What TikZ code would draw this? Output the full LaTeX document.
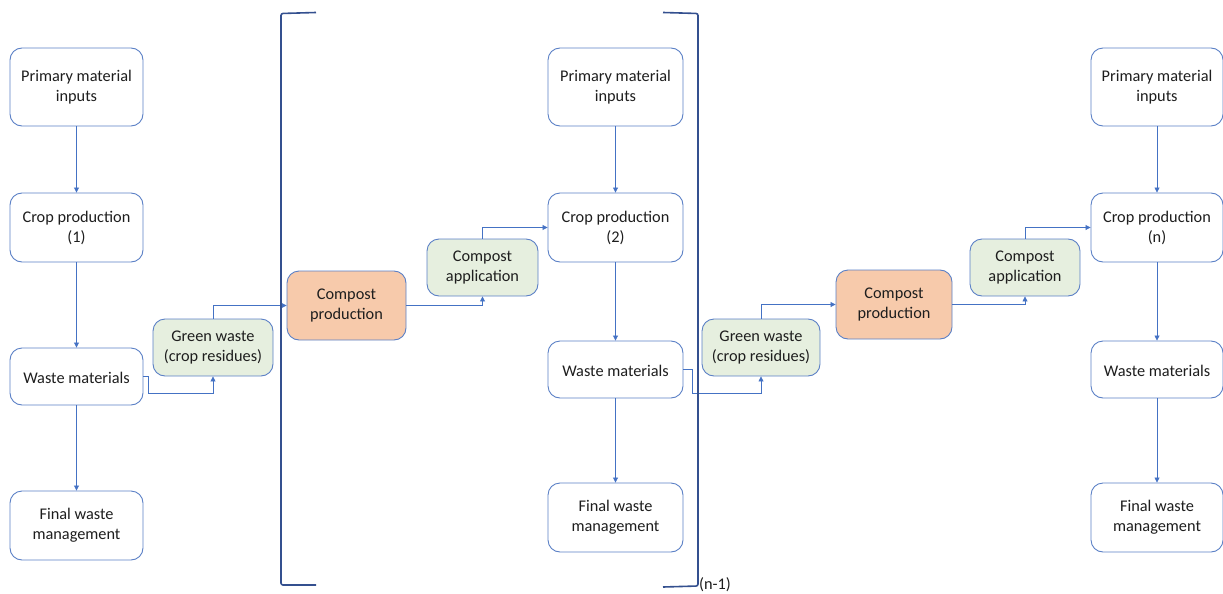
\documentclass[tikz,border=0pt]{standalone}
\usepackage{fontspec}
\setmainfont{Carlito}
\usetikzlibrary{arrows.meta}
\definecolor{edge}{HTML}{4472C4}
\definecolor{boxline}{HTML}{5B80C6}
\definecolor{greenfill}{HTML}{E6EFDF}
\definecolor{orangefill}{HTML}{F7CAAB}
\definecolor{bracketcol}{HTML}{34508F}
\definecolor{ink}{HTML}{1E1E1E}
\begin{document}
\begin{tikzpicture}[x=1pt,y=-1pt,
  every node/.style={font=\fontsize{16.3}{20}\selectfont, text=ink, align=center, inner sep=0pt},
  wbox/.style={draw=boxline, line width=0.9pt, rounded corners=12pt, fill=white,
    execute at begin node={\rule{0pt}{15pt}}},
  gbox/.style={wbox, fill=greenfill},
  obox/.style={wbox, fill=orangefill},
  conn/.style={draw=edge, line width=0.8pt, -{Triangle[length=5pt,width=5pt]}},
  brk/.style={draw=bracketcol, line width=1.6pt, rounded corners=2pt}
]
\useasboundingbox (0,0) rectangle (1223,594);

% first stage column
\node[wbox, minimum width=133, minimum height=78] (p1) at (76.5,87) {Primary material\\inputs};
\node[wbox, minimum width=133, minimum height=69] (c1) at (76.5,227.5) {Crop production\\(1)};
\node[wbox, minimum width=133, minimum height=57] (w1) at (76.5,376.5) {Waste materials};
\node[wbox, minimum width=133, minimum height=69] (f1) at (76.5,525.5) {Final waste\\management};

% loop between stages 1 and 2
\node[gbox, minimum width=120, minimum height=57] (g1) at (213,347.5) {Green waste\\(crop residues)};
\node[obox, minimum width=119, minimum height=69] (cp1) at (346.5,305.5) {Compost\\production};
\node[gbox, minimum width=111, minimum height=57] (ca1) at (482.5,267.5) {Compost\\application};

% second stage column
\node[wbox, minimum width=135, minimum height=78] (p2) at (615.5,87) {Primary material\\inputs};
\node[wbox, minimum width=135, minimum height=69] (c2) at (615.5,227.5) {Crop production\\(2)};
\node[wbox, minimum width=135, minimum height=57] (w2) at (615.5,369.5) {Waste materials};
\node[wbox, minimum width=135, minimum height=69] (f2) at (615.5,517.5) {Final waste\\management};

% loop between stages 2 and n
\node[gbox, minimum width=118, minimum height=57] (g2) at (761,347.5) {Green waste\\(crop residues)};
\node[obox, minimum width=116, minimum height=69] (cp2) at (894,304.5) {Compost\\production};
\node[gbox, minimum width=110, minimum height=57] (ca2) at (1025,267.5) {Compost\\application};

% last stage column
\node[wbox, minimum width=132, minimum height=78] (p3) at (1157,87) {Primary material\\inputs};
\node[wbox, minimum width=132, minimum height=69] (c3) at (1157,227.5) {Crop production\\(n)};
\node[wbox, minimum width=132, minimum height=57] (w3) at (1157,369.5) {Waste materials};
\node[wbox, minimum width=132, minimum height=69] (f3) at (1157,517.5) {Final waste\\management};

% vertical flows
\draw[conn] (p1) -- (c1);
\draw[conn] (c1) -- (w1);
\draw[conn] (w1) -- (f1);
\draw[conn] (p2) -- (c2);
\draw[conn] (c2) -- (w2);
\draw[conn] (w2) -- (f2);
\draw[conn] (p3) -- (c3);
\draw[conn] (c3) -- (w3);
\draw[conn] (w3) -- (f3);

% compost loops
\draw[conn] (w1.east) -- ++(5,0) -- ++(0,17) -| (g1.south);
\draw[conn] (g1.north) |- (cp1.west);
\draw[conn] (cp1.east) -| (ca1.south);
\draw[conn] (ca1.north) |- (c2.west);

\draw[conn] (w2.east) -- ++(9,0) -- ++(0,23.5) -| (g2.south);
\draw[conn] (g2.north) |- (cp2.west);
\draw[conn] (cp2.east) -| (ca2.south);
\draw[conn] (ca2.north) |- (c3.west);

% repeated-stage bracket
\draw[brk] (316,12.5) -- (281,13.5) -- (281,585) -- (316,585);
\draw[brk] (663,12.5) -- (698,13.5) -- (698,586) -- (663,587);
\node[anchor=west] (rep) at (699,585) {(n-1)};
\end{tikzpicture}
\end{document}
